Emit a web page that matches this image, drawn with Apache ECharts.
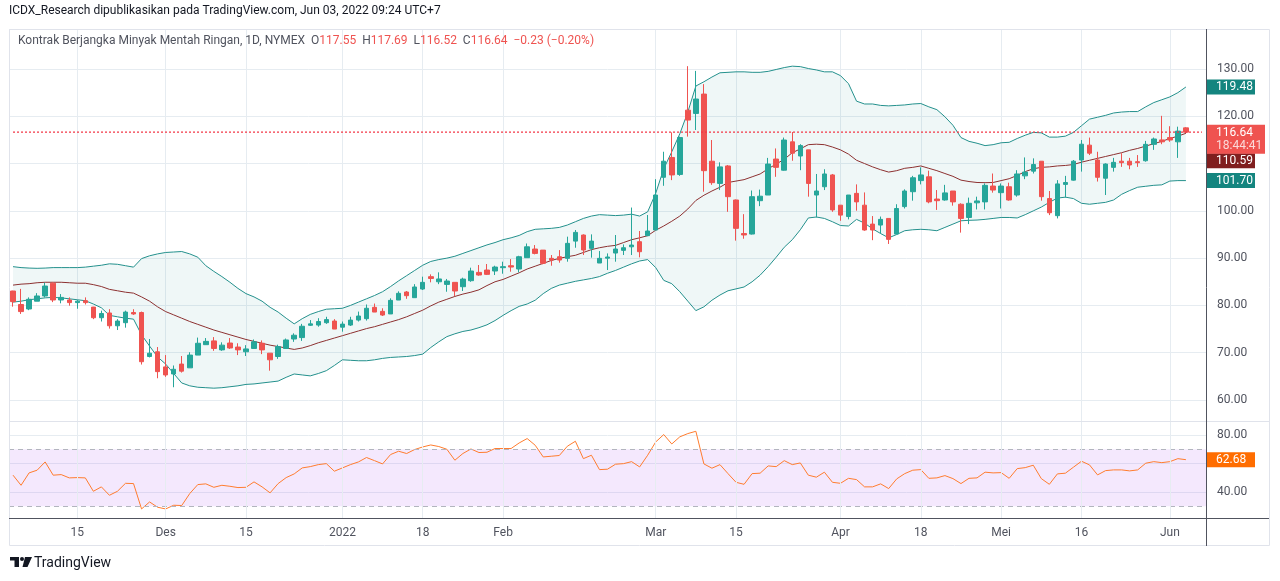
<!DOCTYPE html>
<html>
<head>
    <meta charset="utf-8"/>
    <title>Kontrak Berjangka Minyak Mentah Ringan, 1D, NYMEX</title>
    <script src="https://cdn.jsdelivr.net/npm/echarts/dist/echarts.min.js"></script>
    <style>
        html, body { margin: 0; padding: 0; background: #fff; }
        #chart1 { width: 1280px; height: 581px; }
    </style>
</head>
<body>
<div id="chart1"></div>
<script type="text/javascript">
    // trading days shown on the chart (NYMEX holidays left out)
    var startDay = '2021-11-03';
    var endDay = '2022-06-03';
    var holidays = ['2021-11-25', '2021-12-24', '2022-01-17', '2022-02-21', '2022-04-15', '2022-05-30'];
    var padDays = ['2022-06-06', '2022-06-07'];   // empty room right of the last bar

    // tick labels of the time axis
    var axisMarks = {
        '2021-11-15': '15', '2021-12-01': 'Des', '2021-12-15': '15', '2022-01-03': '2022',
        '2022-01-18': '18', '2022-02-01': 'Feb', '2022-03-01': 'Mar', '2022-03-15': '15',
        '2022-04-01': 'Apr', '2022-04-18': '18', '2022-05-02': 'Mei', '2022-05-16': '16', '2022-06-01': 'Jun'
    };

    var openP = [
        83.05,80.2,79.25,80.9,82.0,84.7,81.15,81.15,80.6,81.0,
        79.65,77.4,78.4,75.7,76.35,78.5,78.5,69.2,70.2,67.0,
        65.5,67.6,66.8,69.5,71.7,72.5,70.6,72.05,71.2,70.2,
        70.9,72.0,69.9,69.2,70.9,72.9,73.2,75.8,75.85,76.35,
        76.7,75.4,75.85,76.9,77.2,79.6,78.75,78.2,81.14,82.84,
        81.64,83.47,86.08,85.0,84.45,84.88,83.96,85.23,86.99,87.49,
        87.28,87.98,88.4,87.7,90.1,91.93,91.7,89.96,90.3,89.96,
        93.6,94.89,92.07,88.97,90.0,91.08,91.65,92.4,93.48,94.75,
        95.95,107.1,111.3,107.7,121.3,120.6,124.7,110.5,105.8,109.5,
        102.3,95.2,95.1,102.15,103.35,110.96,108.6,114.6,111.6,112.9,
        103.35,105.1,107.6,101.2,98.8,103.7,101.2,97.2,97.0,98.4,
        95.1,100.9,104.05,106.4,107.2,102.5,102.3,104.2,101.4,98.6,
        101.7,101.9,105.25,103.85,105.1,103.35,107.4,108.4,110.5,102.6,
        98.98,105.6,106.5,110.75,113.9,110.75,106.9,109.2,110.5,110.5,
        110.4,110.6,114.07,115.0,115.5,114.6,117.55
    ];
    var highP = [
        83.1,83.5,81.7,82.6,84.8,84.9,82.4,81.7,81.15,81.7,
        79.7,78.9,79.2,77.1,78.9,79.2,78.7,72.9,71.2,69.5,
        67.3,69.3,70.1,73.2,73.1,73.3,72.2,73.1,72.0,71.6,
        72.8,72.6,69.9,71.7,73.0,74.1,76.1,76.9,77.3,77.6,
        77.1,76.6,77.6,78.7,80.2,80.4,79.4,81.5,82.98,83.05,
        84.5,86.08,86.57,87.0,85.6,84.88,85.87,87.98,88.55,88.76,
        88.4,89.25,89.8,90.5,93.1,92.77,91.7,90.66,91.7,94.54,
        95.95,95.03,95.03,91.5,91.0,94.89,92.9,100.7,95.74,99.12,
        106.7,112.5,116.6,115.7,130.6,129.6,126.8,114.98,110.26,109.7,
        102.4,99.3,104.3,104.5,111.2,113.2,115.5,116.67,114.1,112.9,
        107.8,108.8,107.8,101.2,103.35,105.6,103.9,98.9,98.8,98.4,
        101.4,104.55,107.4,109.2,108.5,104.4,105.5,104.2,101.6,102.8,
        103.0,105.8,107.9,105.8,105.96,108.6,111.3,111.1,110.5,104.2,
        106.5,107.4,110.75,114.98,115.5,112.5,110.05,111.2,112.2,111.2,
        111.8,114.8,115.5,120.1,117.9,117.8,117.69
    ];
    var lowP = [
        79.74,78.2,79.0,80.9,81.7,80.7,80.45,79.95,79.3,80.2,
        77.1,76.6,75.1,74.8,75.3,78.0,67.5,69.0,64.6,64.9,
        62.7,65.8,66.8,69.5,71.7,70.4,70.4,70.8,69.5,69.3,
        70.8,69.7,66.2,68.7,70.9,72.3,72.5,75.65,75.5,76.1,
        75.0,74.45,75.65,76.6,76.8,78.6,77.76,78.2,81.14,81.4,
        81.64,83.26,84.88,84.5,82.9,81.99,83.05,85.0,86.29,86.43,
        86.43,86.71,87.13,86.99,90.1,90.8,88.7,88.4,89.04,89.25,
        92.2,90.66,90.1,88.97,87.49,89.25,90.66,90.66,90.17,94.75,
        95.95,105.3,106.5,107.4,115.7,117.1,104.05,105.5,104.4,99.8,
        93.7,94.1,95.0,101.0,103.35,107.2,108.5,110.6,108.6,103.0,
        98.6,104.4,99.8,97.9,98.2,100.04,95.8,93.8,95.2,93.0,
        95.1,100.5,102.15,105.6,101.6,100.2,102.15,101.1,95.4,97.2,
        100.3,100.3,103.85,100.5,102.15,103.0,106.7,107.9,102.15,99.1,
        98.4,102.8,106.4,108.3,111.8,106.2,103.35,108.3,109.3,108.8,
        109.3,110.4,112.9,114.1,114.6,111.2,116.52
    ];
    var closeP = [
        80.8,78.7,81.3,82.0,84.1,81.15,81.7,80.6,80.9,80.6,
        77.4,78.3,75.7,76.7,78.6,78.2,68.1,69.9,66.0,65.3,
        66.5,66.1,69.5,72.0,72.4,70.9,71.6,71.0,70.6,70.8,
        72.3,70.6,68.5,71.3,72.7,73.7,75.6,76.1,76.6,77.0,
        75.0,76.05,76.9,77.76,79.4,78.6,77.97,81.07,82.56,82.06,
        83.9,84.88,85.7,85.6,85.16,83.05,85.58,87.28,86.43,86.57,
        88.12,88.2,88.12,90.3,92.4,91.0,88.9,89.6,89.6,93.13,
        95.45,91.72,93.6,89.96,90.24,91.93,92.2,92.77,91.36,95.74,
        103.35,110.5,107.6,115.5,119.2,123.65,108.5,105.96,109.3,103.0,
        96.3,94.9,103.0,103.1,109.9,109.2,114.98,112.2,113.8,105.8,
        104.2,107.8,100.2,99.1,103.35,101.9,95.95,95.95,98.2,93.97,
        100.5,104.2,107.0,107.6,101.9,102.15,103.8,101.9,98.4,101.6,
        102.1,105.4,104.4,105.25,102.3,107.8,108.2,109.8,103.0,99.6,
        105.7,106.0,110.5,114.1,112.2,107.1,109.9,110.26,110.2,109.7,
        110.2,114.07,115.2,114.6,114.98,116.87,116.64
    ];

    // Bollinger bands
    var bbUpper = [
        88.2,88.0,87.9,87.85,87.9,88.0,88.0,88.0,88.0,88.1,
        88.3,88.5,88.8,88.7,88.4,88.1,89.9,90.5,90.9,91.2,
        91.3,91.4,90.9,90.2,88.4,87.2,86.1,84.9,83.6,82.5,
        81.8,80.9,79.6,78.6,77.3,76.1,77.2,78.1,78.7,79.2,
        79.3,79.4,80.0,80.7,81.4,82.1,82.9,84.0,85.2,86.3,
        87.4,88.5,89.3,89.7,90.0,90.4,91.0,91.6,92.2,92.8,
        93.3,93.9,94.3,94.8,95.6,96.1,96.2,96.3,96.5,97.0,
        97.7,98.4,98.9,99.2,99.1,99.0,99.1,99.3,98.9,99.8,
        103.7,108.9,112.5,116.3,120.9,126.4,127.3,128.3,129.2,129.3,
        129.4,129.4,129.3,129.3,129.5,129.9,130.3,130.6,130.5,130.1,
        129.8,129.4,129.4,128.6,126.9,123.2,122.6,122.6,122.3,122.2,
        122.3,122.4,122.6,122.7,122.0,121.4,119.9,118.1,115.5,114.7,
        114.3,113.8,114.0,114.4,114.5,115.3,116.0,116.6,116.5,115.6,
        115.6,115.8,116.6,118.0,119.4,119.8,120.2,120.7,120.9,121.0,
        121.0,122.0,122.9,123.5,124.1,125.0,126.2
    ];
    var bbBasis = [
        84.3,84.5,84.6,84.8,84.9,84.9,84.9,84.8,84.7,84.7,
        84.4,84.0,83.4,83.1,82.8,82.6,81.8,80.9,79.7,78.7,
        78.0,77.3,76.6,76.0,75.4,74.8,74.3,73.8,73.3,72.8,
        72.4,72.0,71.6,71.3,71.0,70.7,71.0,71.5,72.1,72.6,
        73.1,73.6,74.1,74.6,75.1,75.5,76.0,76.5,77.0,77.6,
        78.3,79.0,79.9,80.7,81.3,81.9,82.4,82.8,83.3,84.2,
        85.0,85.5,86.2,86.9,87.7,88.3,88.9,89.5,89.96,90.3,
        90.6,91.2,91.8,92.2,92.5,92.7,93.3,93.9,94.3,94.75,
        95.9,96.8,97.8,98.9,100.4,102.2,103.3,104.2,105.0,106.0,
        106.3,106.6,107.2,107.8,108.9,109.9,110.9,112.3,113.1,114.0,
        114.1,114.0,113.5,112.9,112.0,110.7,110.0,109.3,108.7,108.2,
        108.5,109.0,109.2,109.5,109.0,108.5,107.9,107.3,106.5,106.2,
        106.0,105.96,106.0,106.4,106.8,107.5,108.3,108.9,109.2,109.3,
        109.5,109.6,109.8,110.3,110.7,111.1,111.5,111.9,112.3,112.8,
        113.2,113.7,114.2,114.7,115.3,115.8,116.4
    ];
    var bbLower = [
        80.7,80.9,81.2,81.4,81.6,81.7,81.6,81.4,81.2,81.0,
        80.3,79.5,77.9,77.6,77.3,77.1,73.8,71.4,69.1,67.6,
        65.6,63.6,63.0,62.7,62.6,62.5,62.6,62.8,63.0,63.3,
        63.4,63.6,63.8,64.0,64.8,65.5,65.3,65.1,65.6,66.2,
        67.3,68.5,68.4,68.3,68.3,68.5,68.8,69.0,69.1,69.2,
        69.4,69.7,71.1,72.3,73.4,74.0,74.5,74.8,75.3,75.9,
        76.8,77.9,78.9,79.8,80.3,81.1,82.5,83.6,84.3,84.7,
        85.1,85.4,85.7,86.1,86.8,87.4,88.1,88.8,89.4,89.7,
        88.0,85.3,84.6,82.9,80.9,78.9,79.7,81.1,82.2,83.1,
        83.5,83.9,85.0,86.4,88.2,90.2,92.3,93.9,96.0,98.5,
        98.7,98.4,97.7,96.9,96.8,98.2,97.4,96.2,95.2,94.3,
        95.0,95.8,96.0,96.1,96.0,95.8,96.5,97.2,97.9,98.0,
        98.06,98.2,98.4,98.6,98.6,98.5,99.2,100.0,100.8,101.8,
        102.7,102.9,102.6,101.6,101.4,101.6,101.8,102.3,103.5,104.3,
        105.0,105.2,105.4,105.5,106.3,106.4,106.4
    ];

    // RSI
    var rsi = [
        51.8,44.7,53.4,55.3,61.1,51.8,52.2,49.9,50.1,49.9,
        40.5,43.6,37.7,40.5,46.1,45.9,28.1,33.0,29.3,28.1,
        30.7,30.5,38.9,45.2,45.7,43.3,44.7,44.0,43.1,43.3,
        47.1,43.6,39.4,45.9,50.1,52.7,56.9,57.8,59.2,59.9,
        54.6,56.9,59.2,61.1,64.2,62.0,59.7,66.3,68.6,67.0,
        69.8,71.6,73.0,71.9,70.0,62.3,67.0,70.2,67.7,67.9,
        70.5,70.5,70.5,74.4,77.5,72.8,64.6,65.1,65.6,72.1,
        75.6,63.4,65.8,55.7,56.0,59.5,59.9,61.3,57.6,65.8,
        75.1,80.3,73.7,78.7,81.0,82.6,59.7,56.7,59.2,52.9,
        46.8,45.4,52.9,53.2,58.3,57.8,62.0,59.2,60.4,51.8,
        50.4,53.9,46.8,46.1,49.6,48.7,43.6,43.6,45.7,42.4,
        49.2,52.9,55.3,55.7,49.6,49.9,51.5,49.4,45.9,49.6,
        49.9,53.9,53.4,53.6,49.6,56.4,57.1,58.8,49.4,45.4,
        52.7,53.2,57.4,61.6,59.0,52.0,55.0,55.5,55.5,54.8,
        55.5,60.2,61.3,60.6,61.3,63.4,62.68
    ];

    // values printed in the price-scale tags
    var tagUpper = '119.48';
    var tagBasis = 110.59;
    var tagLower = '101.70';
    var lastPrice = 116.64;
    var countdown = '18:44:41';
    var lastRsi = 62.68;

    var fontFamily = 'Roboto, "Liberation Sans", sans-serif';
    var upColor = '#26a69a';
    var downColor = '#ef5350';
    var bandColor = '#23908c';
    var gridColor = '#e6ecf1';
    var clear = 'rgba(0,0,0,0)';

    function tradingDays(from, to, skip) {
        var out = [];
        var d = new Date(from + 'T00:00:00Z');
        var end = new Date(to + 'T00:00:00Z');
        while (d <= end) {
            var s = d.toISOString().slice(0, 10);
            var wd = d.getUTCDay();
            if (wd !== 0 && wd !== 6 && skip.indexOf(s) < 0) out.push(s);
            d.setUTCDate(d.getUTCDate() + 1);
        }
        return out;
    }

    var days = tradingDays(startDay, endDay, holidays);
    var categories = days.concat(padDays);
    var candles = days.map(function (d, i) {
        return [openP[i], closeP[i], lowP[i], highP[i]];
    });
    var bandWidth = bbUpper.map(function (v, i) {
        return +(v - bbLower[i]).toFixed(2);
    });
    var priceLine = categories.map(function () { return lastPrice; });
    var vLines = Object.keys(axisMarks).map(function (d) {
        return {xAxis: d};
    });

    // a coloured tag on the price scale (its line is invisible)
    function tag(value, text, bg) {
        return {
            yAxis: value,
            lineStyle: {color: clear, width: 1, type: 'solid'},
            label: {
                show: true, position: 'end', distance: 0, formatter: text,
                backgroundColor: bg, color: '#fff', fontSize: 12, fontFamily: fontFamily,
                width: 35, lineHeight: 12, padding: [2, 4, 1, 10]
            }
        };
    }

    var myChart1 = echarts.init(document.getElementById('chart1'));

    myChart1.setOption({
        animation: false,
        title: [{
            text: 'ICDX_Research dipublikasikan pada TradingView.com, Jun 03, 2022 09:24 UTC+7',
            left: 9, top: 5, padding: 0,
            textStyle: {fontSize: 12, fontWeight: 'normal', color: '#131722', fontFamily: fontFamily}
        }, {
            text: '{g|Kontrak Berjangka Minyak Mentah Ringan, 1D, NYMEX}  {g|O}{r|117.55}  {g|H}{r|117.69}  {g|L}{r|116.52}  {g|C}{r|116.64}  {r|\u22120.23 (\u22120.20%)}',
            left: 18, top: 35, padding: 0,
            textStyle: {
                fontSize: 12, fontWeight: 'normal', fontFamily: fontFamily,
                rich: {
                    g: {color: '#50535e', fontSize: 12, fontFamily: fontFamily},
                    r: {color: downColor, fontSize: 12, fontFamily: fontFamily}
                }
            }
        }],
        grid: [
            {left: 9, right: 74, top: 29, height: 392},
            {left: 9, right: 74, top: 421, height: 97}
        ],
        xAxis: [{
            type: 'category', gridIndex: 0, data: categories,
            axisLine: {show: false}, axisTick: {show: false},
            axisLabel: {show: false}, splitLine: {show: false}
        }, {
            type: 'category', gridIndex: 1, data: categories,
            axisLine: {show: false}, axisTick: {show: false}, splitLine: {show: false},
            axisLabel: {
                margin: 9, fontSize: 12, color: '#50535e', fontFamily: fontFamily,
                interval: function (idx, val) { return axisMarks.hasOwnProperty(val); },
                formatter: function (val) { return axisMarks[val] || ''; }
            }
        }],
        yAxis: [{
            type: 'value', gridIndex: 0, position: 'right',
            min: 55.56, max: 138.46, splitNumber: 8,
            axisLine: {show: false}, axisTick: {show: false},
            axisLabel: {
                margin: 11, fontSize: 12, color: '#50535e', fontFamily: fontFamily,
                showMinLabel: false, showMaxLabel: false,
                formatter: function (v) { return v.toFixed(2); }
            },
            splitLine: {lineStyle: {color: gridColor}}
        }, {
            type: 'value', gridIndex: 1, position: 'right',
            min: 21.75, max: 89.82, splitNumber: 3,
            axisLine: {show: false}, axisTick: {show: false},
            axisLabel: {
                margin: 11, fontSize: 12, color: '#50535e', fontFamily: fontFamily,
                showMinLabel: false, showMaxLabel: false,
                formatter: function (v) { return (v === 40 || v === 80) ? v.toFixed(2) : ''; }
            },
            splitLine: {lineStyle: {color: gridColor}}
        }],
        series: [
            {
                name: 'bbBase', type: 'line', xAxisIndex: 0, yAxisIndex: 0,
                data: bbLower, stack: 'bb', symbol: 'none', silent: true,
                lineStyle: {opacity: 0}, z: 1,
                markLine: {
                    silent: true, symbol: ['none', 'none'], z: 1,
                    label: {show: false},
                    lineStyle: {color: gridColor, type: 'solid', width: 1},
                    data: vLines
                }
            },
            {
                name: 'bbFill', type: 'line', xAxisIndex: 0, yAxisIndex: 0,
                data: bandWidth, stack: 'bb', symbol: 'none', silent: true,
                lineStyle: {opacity: 0}, z: 1,
                areaStyle: {color: 'rgba(35, 145, 140, 0.07)', opacity: 1}
            },
            {
                name: 'Upper', type: 'line', data: bbUpper, symbol: 'none', silent: true,
                lineStyle: {color: bandColor, width: 1}, z: 2
            },
            {
                name: 'Basis', type: 'line', data: bbBasis, symbol: 'none', silent: true,
                lineStyle: {color: '#8c3030', width: 1}, z: 2
            },
            {
                name: 'Lower', type: 'line', data: bbLower, symbol: 'none', silent: true,
                lineStyle: {color: bandColor, width: 1}, z: 2,
                markLine: {
                    silent: true, symbol: ['none', 'none'],
                    data: [
                        tag(bbUpper[bbUpper.length - 1], tagUpper, '#14857f'),
                        tag(bbLower[bbLower.length - 1], tagLower, '#14857f'),
                        tag(tagBasis, tagBasis.toFixed(2), '#801f1f'),
                        {
                            yAxis: lastPrice,
                            lineStyle: {color: clear, width: 1, type: 'solid'},
                            label: {
                                show: true, position: 'end', distance: 0,
                                formatter: '{p|}\n{a|' + lastPrice.toFixed(2) + '}\n{b|' + countdown + '}',
                                rich: {
                                    p: {height: 14, lineHeight: 14, width: 10},
                                    a: {
                                        backgroundColor: downColor, color: '#fff', fontSize: 12,
                                        fontFamily: fontFamily, width: 49, height: 14, lineHeight: 14,
                                        padding: [1, 0, 0, 10]
                                    },
                                    b: {
                                        backgroundColor: downColor, color: '#fbd9d9', fontSize: 12,
                                        fontFamily: fontFamily, width: 49, height: 14, lineHeight: 14,
                                        padding: [0, 0, 1, 10]
                                    }
                                }
                            }
                        }
                    ]
                }
            },
            {
                // last-price line across the pane
                name: 'last', type: 'line', data: priceLine, symbol: 'none', silent: true, z: 4,
                lineStyle: {color: '#f23645', width: 1.3, type: [2, 2]}
            },
            {
                name: 'CL1!', type: 'candlestick', data: candles, barWidth: 5, z: 3,
                itemStyle: {
                    color: upColor, color0: downColor,
                    borderColor: upColor, borderColor0: downColor, borderWidth: 1
                }
            },
            {
                name: 'RSI', type: 'line', xAxisIndex: 1, yAxisIndex: 1,
                data: rsi, symbol: 'none', silent: true, z: 3,
                lineStyle: {color: '#ff7c2e', width: 1},
                markArea: {
                    silent: true,
                    itemStyle: {color: 'rgba(180, 100, 240, 0.15)'},
                    data: [[{yAxis: 30}, {yAxis: 70}]]
                },
                markLine: {
                    silent: true, symbol: ['none', 'none'],
                    label: {show: false},
                    data: [
                        {yAxis: 70, lineStyle: {color: '#b2b5be', type: [5, 4], width: 1}},
                        {yAxis: 30, lineStyle: {color: '#b2b5be', type: [5, 4], width: 1}}
                    ].concat(vLines.map(function (v) {
                        return {xAxis: v.xAxis, lineStyle: {color: gridColor, type: 'solid', width: 1}};
                    })).concat([{
                        yAxis: lastRsi,
                        lineStyle: {color: clear, width: 1, type: 'solid'},
                        label: {
                            show: true, position: 'end', distance: 0, formatter: lastRsi.toFixed(2),
                            backgroundColor: '#ff6d00', color: '#fff', fontSize: 12, fontFamily: fontFamily,
                            width: 35, lineHeight: 12, padding: [2, 4, 1, 10]
                        }
                    }])
                }
            }
        ],
        graphic: [
            {type: 'rect', z: 100, silent: true,
                shape: {x: 9.5, y: 29.5, width: 1260, height: 516},
                style: {fill: 'none', stroke: '#e0e3eb', lineWidth: 1}},
            {type: 'line', z: 100, silent: true,
                shape: {x1: 9, y1: 421.5, x2: 1269, y2: 421.5},
                style: {stroke: '#e0e3eb', lineWidth: 1}},
            {type: 'line', z: 101, silent: true,
                shape: {x1: 9, y1: 518.5, x2: 1269, y2: 518.5},
                style: {stroke: '#50535e', lineWidth: 1}},
            {type: 'line', z: 101, silent: true,
                shape: {x1: 1206.5, y1: 29, x2: 1206.5, y2: 546},
                style: {stroke: '#50535e', lineWidth: 1}},
            {type: 'group', left: 10, top: 557, silent: true, children: [
                {type: 'rect', shape: {x: 0, y: 0, width: 9, height: 3.5}, style: {fill: '#131722'}},
                {type: 'rect', shape: {x: 4.5, y: 0, width: 4.5, height: 10}, style: {fill: '#131722'}},
                {type: 'circle', shape: {cx: 12, cy: 2, r: 2}, style: {fill: '#131722'}},
                {type: 'polygon', shape: {points: [[15, 0], [22, 0], [17.5, 10], [12.5, 10]]}, style: {fill: '#131722'}}
            ]},
            {type: 'text', left: 34, top: 556, silent: true,
                style: {text: 'TradingView', fontSize: 14, fill: '#131722', fontFamily: fontFamily}}
        ]
    });
</script>
</body>
</html>
